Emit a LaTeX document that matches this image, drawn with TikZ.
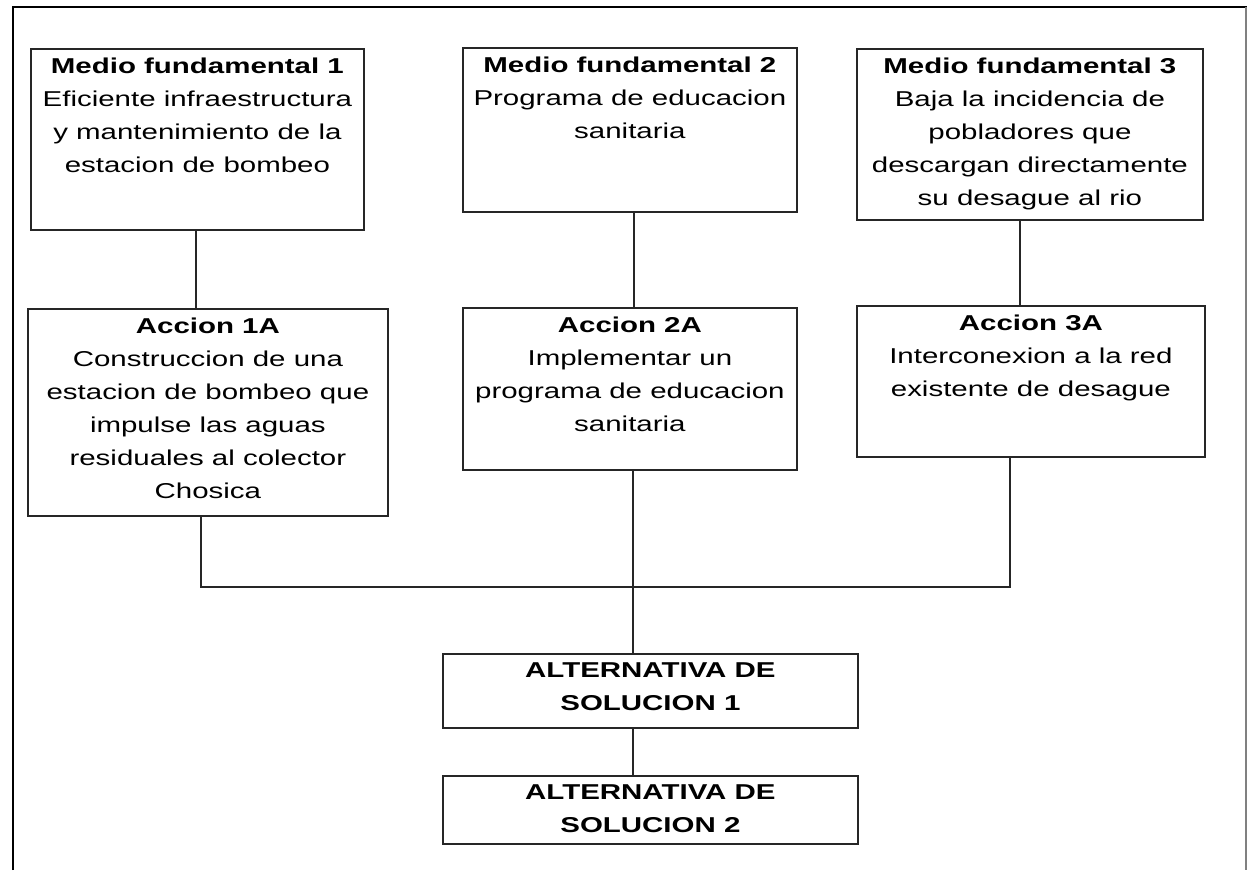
\documentclass[tikz,border=0pt]{standalone}
\usepackage{fontspec}
\setmainfont{Liberation Sans}[FakeStretch=1.37]
\begin{document}
\begin{tikzpicture}[x=1pt,y=-1pt,
  box/.style={draw=black!85,line width=1.8pt,inner sep=0pt,anchor=north west},
  txt/.style={anchor=north,inner sep=0pt,align=center,font=\fontsize{21.5}{33}\selectfont,yshift=-9.3pt},
  link/.style={draw=black!85,line width=1.8pt}]
\useasboundingbox (0,0) rectangle (1247,870);
\draw[line width=2.5pt] (13,870) -- (13,7) -- (1247,7);
\draw[line width=1.2pt,black!50] (1246,7) -- (1246,870);
% boxes
\node[box,minimum width=333pt,minimum height=181pt] (mf1) at (30,48) {};
\node[box,minimum width=334pt,minimum height=164pt] (mf2) at (462,47) {};
\node[box,minimum width=346pt,minimum height=171pt] (mf3) at (856,48) {};
\node[box,minimum width=360pt,minimum height=207pt] (a1) at (27,308) {};
\node[box,minimum width=334pt,minimum height=162pt] (a2) at (462,307) {};
\node[box,minimum width=348pt,minimum height=151pt] (a3) at (856,305) {};
\node[box,minimum width=415pt,minimum height=74pt] (s1) at (442,653) {};
\node[box,minimum width=415pt,minimum height=68pt] (s2) at (442,775) {};
% texts
\node[txt] (t1) at (mf1.north) {\textbf{Medio fundamental 1}\\Eficiente infraestructura\\y mantenimiento de la\\estacion de bombeo};
\node[txt] (t2) at (mf2.north) {\textbf{Medio fundamental 2}\\Programa de educacion\\sanitaria};
\node[txt] (t3) at (mf3.north) {\textbf{Medio fundamental 3}\\Baja la incidencia de\\pobladores que\\descargan directamente\\su desague al rio};
\node[txt] (t4) at (a1.north) {\textbf{Accion 1A}\\Construccion de una\\estacion de bombeo que\\impulse las aguas\\residuales al colector\\Chosica};
\node[txt] (t5) at (a2.north) {\textbf{Accion 2A}\\Implementar un\\programa de educacion\\sanitaria};
\node[txt] (t6) at (a3.north) {\textbf{Accion 3A}\\Interconexion a la red\\existente de desague};
\node[txt,font=\fontsize{21.5}{33}\selectfont\bfseries] (t7) at (s1.north) {ALTERNATIVA DE\\SOLUCION 1};
\node[txt,font=\fontsize{21.5}{33}\selectfont\bfseries] (t8) at (s2.north) {ALTERNATIVA DE\\SOLUCION 2};
% connectors
\coordinate (bus) at (632,587);
\draw[link] ([xshift=-1.5pt]mf1.south) -- ([xshift=-1.5pt]mf1.south |- a1.north);
\draw[link] ([xshift=4pt]mf2.south) -- ([xshift=4pt]mf2.south |- a2.north);
\draw[link] ([xshift=-10pt]mf3.south) -- ([xshift=-10pt]mf3.south |- a3.north);
\draw[link] ([xshift=-7pt]a1.south) |- (bus) -| ([xshift=-21pt]a3.south);
\draw[link] ([xshift=3pt]a2.south) -- ([xshift=3pt]a2.south |- s1.north);
\draw[link] ([xshift=-17.5pt]s1.south) -- ([xshift=-17.5pt]s1.south |- s2.north);
\end{tikzpicture}
\end{document}
